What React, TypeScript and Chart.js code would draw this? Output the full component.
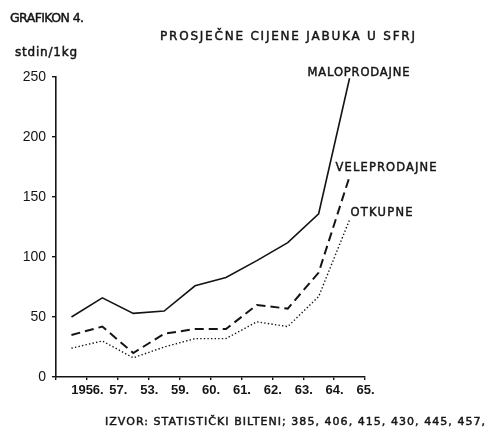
import React, { useEffect, useRef } from 'react';
import { Chart, registerables } from 'chart.js';

Chart.register(...registerables);

const years = ['1956.', '57.', '53.', '59.', '60.', '61.', '62.', '63.', '64.', '65.'];
const maloprodajne = [50, 66, 53, 55, 76, 83, 97, 112, 136, 249];
const veleprodajne = [35, 42, 20, 36, 40, 40, 60, 57, 87, 167];
const otkupne = [24, 30, 16, 25, 32, 32, 46, 42, 67, 131];
const seriesNames = ['MALOPRODAJNE', 'VELEPRODAJNE', 'OTKUPNE'];
const yMax = 250;
const yStep = 50;

const heading = 'GRAFIKON 4.';
const title = 'PROSJEČNE CIJENE JABUKA U SFRJ';
const unit = 'stdin/1kg';
const source = 'IZVOR: STATISTIČKI BILTENI; 385, 406, 415, 430, 445, 457,';

const FONT = '"DejaVu Sans", sans-serif';
const TICK_FONT = '"Liberation Sans", Arial, sans-serif';
const INK = '#141414';

function fitText(ctx: CanvasRenderingContext2D, text: string, x: number, y: number, size: number, width: number) {
  ctx.font = `${size}px ${FONT}`;
  (ctx as any).letterSpacing = '0px';
  const w = ctx.measureText(text).width;
  const ls = text.length > 1 ? (width - w) / (text.length - 1) : 0;
  (ctx as any).letterSpacing = `${ls}px`;
  ctx.textAlign = 'left';
  ctx.textBaseline = 'middle';
  ctx.lineWidth = 0.45;
  ctx.strokeStyle = INK;
  ctx.strokeText(text, x, y);
  ctx.fillText(text, x, y);
  (ctx as any).letterSpacing = '0px';
}

const textPlugin = {
  id: 'scanText',
  afterDraw(chart: any) {
    const ctx: CanvasRenderingContext2D = chart.ctx;
    ctx.save();
    ctx.fillStyle = INK;
    fitText(ctx, heading, 10, 19, 12.5, 74);
    fitText(ctx, title, 160, 37, 12, 255);
    fitText(ctx, unit, 15, 53, 12, 62);
    fitText(ctx, source, 105, 422, 11, 380);
    const offsets = [
      { dx: -42, dy: -5, w: 102 },
      { dx: -14, dy: -9, w: 101 },
      { dx: 1, dy: -7, w: 62 },
    ];
    chart.data.datasets.forEach((_: any, i: number) => {
      const meta = chart.getDatasetMeta(i);
      const last = meta.data[meta.data.length - 1];
      const o = offsets[i];
      fitText(ctx, seriesNames[i], last.x + o.dx, last.y + o.dy, 11.5, o.w);
    });
    ctx.restore();
  },
};

export default function App() {
  const ref = useRef<HTMLCanvasElement | null>(null);

  useEffect(() => {
    document.body.style.margin = '0';
    document.body.style.background = '#fff';
    const canvas = ref.current;
    if (!canvas) return;
    Chart.defaults.font.family = FONT;
    Chart.defaults.color = INK;

    const chart = new Chart(canvas, {
      type: 'line',
      data: {
        labels: years,
        datasets: [
          {
            label: seriesNames[0],
            data: maloprodajne,
            borderColor: INK,
            borderWidth: 1.6,
            pointRadius: 0,
            tension: 0,
            fill: false,
          },
          {
            label: seriesNames[1],
            data: veleprodajne,
            borderColor: INK,
            borderWidth: 2,
            borderDash: [9, 5],
            pointRadius: 0,
            tension: 0,
            fill: false,
          },
          {
            label: seriesNames[2],
            data: otkupne,
            borderColor: INK,
            borderWidth: 1.4,
            borderDash: [1.4, 2.2],
            pointRadius: 0,
            tension: 0,
            fill: false,
          },
        ],
      },
      options: {
        responsive: false,
        animation: false,
        layout: { padding: { left: 0, top: 77, right: 127, bottom: 0 } },
        plugins: {
          legend: { display: false },
          tooltip: { enabled: false },
          title: { display: false },
        },
        scales: {
          x: {
            type: 'category',
            offset: true,
            border: { display: true, color: INK, width: 1.6 },
            grid: { display: true, drawOnChartArea: false, drawTicks: true, tickLength: 3, color: INK, offset: true, lineWidth: 1.4 },
            ticks: {
              autoSkip: false,
              maxRotation: 0,
              minRotation: 0,
              padding: 3,
              labelOffset: 16,
              color: INK,
              font: { size: 13, family: TICK_FONT, weight: 'bold' },
            },
            afterFit: (scale: any) => {
              scale.height = 59;
            },
          },
          y: {
            min: 0,
            max: yMax,
            border: { display: true, color: INK, width: 1.6 },
            grid: { display: true, drawOnChartArea: false, drawTicks: true, tickLength: 4, color: INK, lineWidth: 1.4 },
            ticks: {
              stepSize: yStep,
              padding: 6,
              color: INK,
              font: { size: 14, family: TICK_FONT },
            },
            afterFit: (scale: any) => {
              scale.width = 56;
            },
          },
        },
      },
      plugins: [textPlugin],
    });
    return () => chart.destroy();
  }, []);

  return (
    <div style={{ width: 492, height: 436, background: '#fff' }}>
      <canvas ref={ref} width={492} height={436} style={{ display: 'block' }} />
    </div>
  );
}
